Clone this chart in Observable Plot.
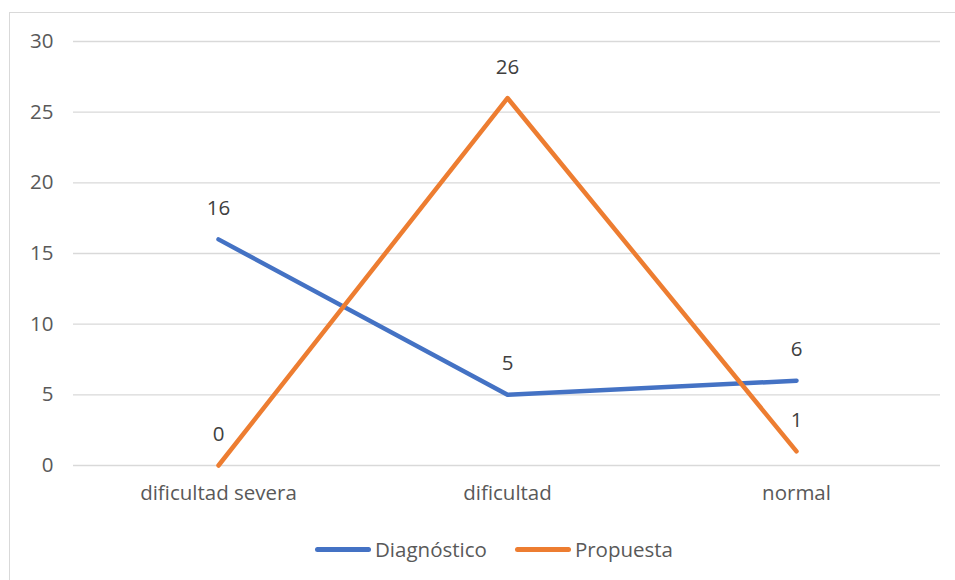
<!DOCTYPE html>
<html>
<head>
<meta charset="utf-8">
<script src="https://cdn.jsdelivr.net/npm/d3@7"></script>
<script src="https://cdn.jsdelivr.net/npm/@observablehq/plot@0.6"></script>
<style>
  body { margin: 0; background: #fff; font-family: "Open Sans", sans-serif; }
  #frame { position: absolute; left: 9px; top: 12px; width: 1000px; height: 1000px; border-left: 1px solid #d9d9d9; border-top: 1px solid #d9d9d9; }
  #chart { position: absolute; left: 0; top: 0; }
  #legend { position: absolute; top: 534px; left: 0; width: 988px; display: flex; justify-content: center; gap: 28px; font-size: 20.5px; line-height: 30px; color: #595959; }
  .item { display: flex; align-items: center; gap: 4px; }
  .sw { width: 56px; height: 5px; border-radius: 3px; }
</style>
</head>
<body>
<div id="frame"></div>
<div id="chart"></div>
<div id="legend"></div>
<script>
const categories = ["dificultad severa", "dificultad", "normal"];
const diagnostico = [16, 5, 6];
const propuesta = [0, 26, 1];
const seriesNames = ["Diagnóstico", "Propuesta"];
const colors = ["#4472C4", "#ED7D31"];
const yTicks = [0, 5, 10, 15, 20, 25, 30];

const data = [];
categories.forEach((c, i) => {
  data.push({cat: c, value: diagnostico[i], series: seriesNames[0]});
  data.push({cat: c, value: propuesta[i], series: seriesNames[1]});
});

const chart = Plot.plot({
  width: 955,
  height: 515,
  marginTop: 41,
  marginBottom: 50,
  marginLeft: 73,
  marginRight: 15,
  style: { fontFamily: "Open Sans, sans-serif", fontSize: "20.5px", color: "#595959", background: "transparent" },
  x: { type: "point", domain: categories, padding: 0.5, label: null },
  y: { domain: [0, 30], ticks: yTicks, label: null },
  color: { domain: seriesNames, range: colors },
  marks: [
    Plot.ruleY(yTicks, { stroke: "#d9d9d9", strokeWidth: 1.3, strokeOpacity: 1 }),
    Plot.axisY({ ticks: yTicks, tickSize: 0, tickPadding: 20, label: null, fill: "#595959", fontSize: 20.5 }),
    Plot.axisX({ tickSize: 0, tickPadding: 20, label: null, fill: "#595959", fontSize: 20.5 }),
    Plot.line(data, { x: "cat", y: "value", z: "series", stroke: "series", strokeWidth: 4.5, strokeLinecap: "round", strokeLinejoin: "round" }),
    Plot.text(data, { x: "cat", y: "value", text: d => String(d.value), dy: -31, fill: "#404040", fontSize: 20.5 })
  ]
});
document.getElementById("chart").appendChild(chart);

const legend = document.getElementById("legend");
seriesNames.forEach((s, i) => {
  const item = document.createElement("div");
  item.className = "item";
  const sw = document.createElement("div");
  sw.className = "sw";
  sw.style.background = colors[i];
  const t = document.createElement("span");
  t.textContent = s;
  item.appendChild(sw);
  item.appendChild(t);
  legend.appendChild(item);
});
</script>
</body>
</html>
